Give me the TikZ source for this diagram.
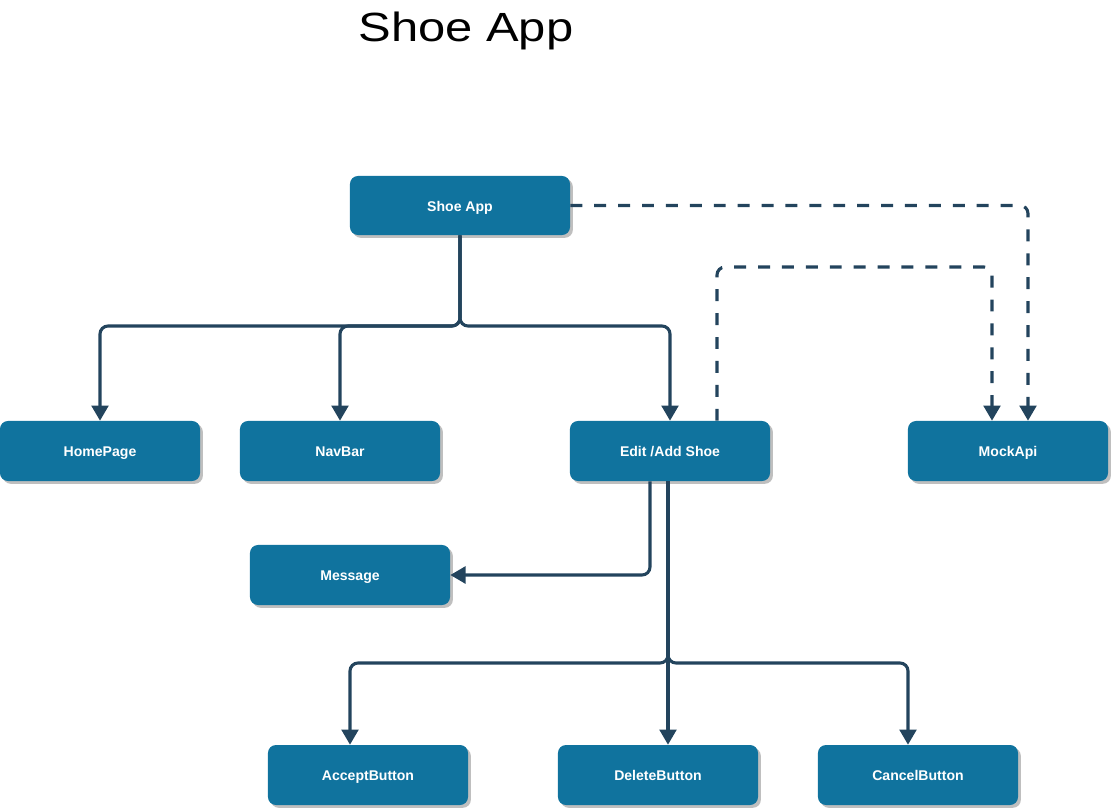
\documentclass[tikz,border=0pt]{standalone}
\usepackage{fontspec}
\setmainfont{Liberation Sans}
\usetikzlibrary{arrows.meta, calc, shadows}
\definecolor{boxblue}{HTML}{10739E}
\definecolor{linkblue}{HTML}{23445D}

\begin{document}
\begin{tikzpicture}[x=0.025cm, y=-0.025cm, >={Triangle[width=0.42cm,length=0.38cm]},
	comp/.style={fill=boxblue, rounded corners=0.2cm, minimum width=5cm, minimum height=1.5cm,
		text=white, font=\bfseries\normalsize, text height=0.9em, text depth=0.06em,
		drop shadow={shadow xshift=2pt, shadow yshift=-2pt, fill=black!25, opacity=1}},
	link/.style={->, draw=linkblue, line width=2.2pt, rounded corners=0.2cm},
	dlink/.style={link, dash pattern=on 8.5pt off 8.5pt}]
	
	\useasboundingbox (0,0) rectangle (1111,809);
	
	%========================
	% title
	%========================
	\node[anchor=base, xscale=1.2, font=\fontsize{29}{34}\selectfont] (title) at (466,42) {Shoe App};
	
	%========================
	% components
	%========================
	\node[comp, minimum width=5.5cm, minimum height=1.475cm] (app) at (460,205.5) {Shoe App};
	\node[comp] (home) at (100,451) {HomePage};
	\node[comp] (nav) at (340,451) {NavBar};
	\node[comp] (edit) at (670,451) {Edit /Add Shoe};
	\node[comp] (mock) at (1008,451) {MockApi};
	\node[comp] (msg) at (350,575) {Message};
	\node[comp] (accept) at (368,775) {AcceptButton};
	\node[comp] (delete) at (658,775) {DeleteButton};
	\node[comp] (cancel) at (918,775) {CancelButton};
	
	% junctions of the trees
	\coordinate (split) at (460,326);
	\coordinate (splitb) at (668,663);
	\coordinate (bend) at (900,267);
	
	%========================
	% connectors
	%========================
	% Shoe App -> pages
	\draw[link] (app.south) -- (split) -| (home.north);
	\draw[link] (app.south) -- (split) -| (nav.north);
	\draw[link] (app.south) -- (split) -| (edit.north);
	
	% Edit /Add Shoe -> message and buttons
	\draw[link] ($(edit.south)+(-20,0)$) |- (msg.east);
	\draw[link] ($(edit.south)+(-2,0)$) -- (splitb) -| ($(accept.north)+(-18,0)$);
	\draw[link] ($(edit.south)+(-2,0)$) -- ($(delete.north)+(10,0)$);
	\draw[link] ($(edit.south)+(-2,0)$) -- (splitb) -| ($(cancel.north)+(-10,0)$);
	
	% calls to the mock api
	\draw[dlink] (app.east) -| ($(mock.north)+(20,0)$);
	\draw[dlink] ($(edit.north)+(47,0)$) |- (bend) -| ($(mock.north)+(-16,0)$);
	
\end{tikzpicture}
\end{document}
